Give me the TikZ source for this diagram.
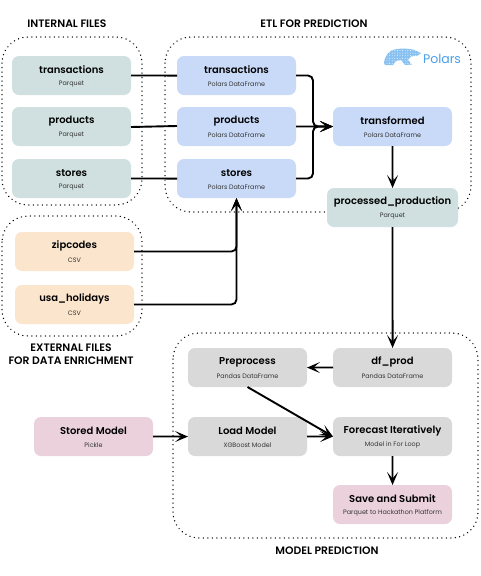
\documentclass[tikz,border=0pt]{standalone}
\usepackage{fontspec}
\setmainfont{Poppins}[BoldFont={Poppins SemiBold}]
\usetikzlibrary{arrows.meta,calc}
\definecolor{tealbox}{HTML}{D0E0E0}
\definecolor{bluebox}{HTML}{C9DAF8}
\definecolor{orangebox}{HTML}{FCE5CD}
\definecolor{greybox}{HTML}{D9D9D9}
\definecolor{pinkbox}{HTML}{EAD1DC}
\definecolor{polarsblue}{HTML}{4A9FEA}
\tikzset{
  x=1pt,y=-1pt,
  card/.style={rounded corners=7pt,draw=none},
  region/.style={draw=black,line width=1.4pt,dash pattern=on 0.1pt off 4.4pt,line cap=round,rounded corners=26pt},
  conn/.style={draw=black,line width=1.9pt,rounded corners=5pt},
  arr/.style={conn,-{Stealth[length=13pt,width=11pt,inset=6.5pt]}},
  heading/.style={font=\fontsize{10.8}{13}\selectfont\bfseries,align=center,inner sep=0pt},
  titlet/.style={font=\fontsize{10}{12}\selectfont\bfseries,inner sep=0pt},
  subt/.style={font=\fontsize{6.4}{8}\selectfont,text=black!80,inner sep=0pt},
}
\newcommand{\labels}[3]{%
  \node[titlet] (#1t) at ($(#1)+(0,-5.5)$) {#2};
  \node[subt] (#1s) at ($(#1)+(0,8.5)$) {#3};}
\begin{document}
\begin{tikzpicture}
\useasboundingbox (0,0) rectangle (480,576);
\fill[white] (0,0) rectangle (480,576);
% regions
\draw[region] (2,37) rectangle (142,205);
\draw[region] (165,37) rectangle (471,212);
\draw[region] (2,216) rectangle (142,336);
\draw[region] (173,333) rectangle (478,538);
% cards
\path[card,fill=tealbox] (12,56) rectangle (131,95) coordinate[midway] (c1);
\path[card,fill=tealbox] (12,107) rectangle (131,146) coordinate[midway] (c2);
\path[card,fill=tealbox] (12,159) rectangle (131,198) coordinate[midway] (c3);
\path[card,fill=bluebox] (177,56) rectangle (296,95) coordinate[midway] (c4);
\path[card,fill=bluebox] (177,107) rectangle (296,146) coordinate[midway] (c5);
\path[card,fill=bluebox] (177,159) rectangle (296,198) coordinate[midway] (c6);
\path[card,fill=bluebox] (333,107) rectangle (452,146) coordinate[midway] (c7);
\path[card,fill=tealbox] (327,188) rectangle (458,227) coordinate[midway] (c8);
\path[card,fill=orangebox] (15,232) rectangle (134,271) coordinate[midway] (c9);
\path[card,fill=orangebox] (15,285) rectangle (134,324) coordinate[midway] (c10);
\path[card,fill=greybox] (188,348) rectangle (307,387) coordinate[midway] (c11);
\path[card,fill=greybox] (333,348) rectangle (452,387) coordinate[midway] (c12);
\path[card,fill=pinkbox] (34,417) rectangle (153,456) coordinate[midway] (c13);
\path[card,fill=greybox] (188,417) rectangle (307,456) coordinate[midway] (c14);
\path[card,fill=greybox] (333,417) rectangle (452,456) coordinate[midway] (c15);
\path[card,fill=pinkbox] (333,485) rectangle (452,524) coordinate[midway] (c16);
% invisible anchors nodes
\tikzset{anch/.style={minimum width=119pt,minimum height=39pt,inner sep=0pt,outer sep=0pt}}
\foreach \n/\c in {itrans/c1,iprod/c2,istor/c3,btrans/c4,bprod/c5,bstor/c6,transf/c7,zip/c9,usa/c10,prep/c11,dfprod/c12,stored/c13,load/c14,fore/c15,save/c16}
  \node[anch,name=\n] at (\c) {};
\node[anch,minimum width=131pt] (proc) at (c8) {};
% labels
\labels{itrans}{transactions}{Parquet}
\labels{iprod}{products}{Parquet}
\labels{istor}{stores}{Parquet}
\labels{btrans}{transactions}{Polars DataFrame}
\labels{bprod}{products}{Polars DataFrame}
\labels{bstor}{stores}{Polars DataFrame}
\labels{transf}{transformed}{Polars DataFrame}
\labels{proc}{processed\_production}{Parquet}
\labels{zip}{zipcodes}{CSV}
\labels{usa}{usa\_holidays}{CSV}
\labels{prep}{Preprocess}{Pandas DataFrame}
\labels{dfprod}{df\_prod}{Pandas DataFrame}
\labels{stored}{Stored Model}{Pickle}
\labels{load}{Load Model}{XGBoost Model}
\labels{fore}{Forecast Iteratively}{Model in For Loop}
\labels{save}{Save and Submit}{Parquet to Hackathon Platform}
% headings
\node[heading] (h1) at (67,24) {INTERNAL FILES};
\node[heading] (h2) at (314,24) {ETL FOR PREDICTION};
\node[heading] (h3) at (71,354.5) {EXTERNAL FILES\\FOR DATA ENRICHMENT};
\node[heading] (h4) at (327,551) {MODEL PREDICTION};
% polars
\fill[polarsblue!65] (384,63) .. controls (385,55) and (390,49) .. (397,49) .. controls (404,48) and (410,49) .. (415,50)
  -- (421,53) -- (418,55.5) -- (411,56.5) -- (408,60) -- (412,64.5) -- (405,65) -- (401,60) -- (396,61) -- (393,65) -- (385,65) -- cycle;
\foreach \i in {0,...,12} \foreach \j in {0,...,5}
  \fill[white] ({387+2.6*\i},{50.5+2.6*\j}) circle[radius=0.45];
\node[inner sep=0pt,text=polarsblue,font=\fontsize{12.5}{14}\selectfont] (pol) at (442,59) {Polars};
% connectors
\draw[conn] (itrans.east) -- ($(btrans.west)+(0,0.06)$);
\draw[conn] ($(iprod.east)+(0,0.5)$) -- ($(bprod.west)+(0,-0.5)$);
\draw[conn] (istor.east) -- ($(bstor.west)+(0,0.06)$);
\coordinate (jx) at (313,126.5);
\draw[arr] (btrans.east) -| (jx) -- (transf.west);
\draw[arr] (bstor.east) -| (jx) -- (transf.west);
\draw[arr] (bprod.east) -- ($(transf.west)+(0,0.06)$);
\draw[arr] (transf.south) -- ($(proc.north)+(0.06,0)$);
\draw[arr] (proc.south) -- ($(dfprod.north)+(0.06,0)$);
\draw[arr] (dfprod.west) -- ($(prep.east)+(0,0.06)$);
\draw[arr] (prep.south) -- (fore.west);
\draw[arr] (load.east) -- ($(fore.west)+(0,0.06)$);
\draw[arr] (stored.east) -- ($(load.west)+(0,0.06)$);
\draw[arr] (fore.south) -- ($(save.north)+(0.06,0)$);
\draw[arr] (zip.east) -| (bstor.south);
\draw[arr] (usa.east) -| (bstor.south);
\end{tikzpicture}
\end{document}
